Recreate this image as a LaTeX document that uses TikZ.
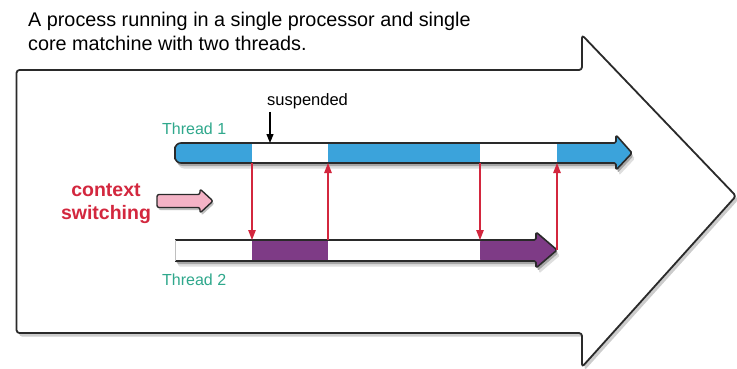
\documentclass[tikz,border=0pt]{standalone}
\usepackage{fontspec}
\setmainfont{Liberation Sans}
\usetikzlibrary{arrows.meta,calc}

\definecolor{tblue}{HTML}{3BA3DB}
\definecolor{tpurple}{HTML}{7E3B86}
\definecolor{tpink}{HTML}{F4B3C6}
\definecolor{tred}{HTML}{D3273E}
\definecolor{tteal}{HTML}{2FA88C}
\definecolor{edge}{HTML}{2A2A2A}

% outlines, offset by (#1,#2), reused for the shapes and their shadows
\newcommand\procshape[2]{(16.5+#1,70+#2) -- (582+#1,70+#2) -- (582+#1,35+#2) -- (736+#1,196+#2)
    -- (582+#1,367+#2) -- (582+#1,333+#2) -- (16.5+#1,333+#2) -- cycle}
\newcommand\threadoneshape[2]{[rounded corners=6pt] (175+#1,153+#2) -- (175+#1,143+#2) -- (300+#1,143+#2)
    [rounded corners=1.5pt] -- (616+#1,143+#2) -- (616+#1,135+#2) -- (632+#1,153+#2) -- (616+#1,170+#2)
    -- (616+#1,163+#2) [rounded corners=6pt] -- (175+#1,163+#2) -- cycle}
\newcommand\threadtwoshape[2]{[rounded corners=1.5pt] (175+#1,240+#2) -- (536+#1,240+#2) -- (536+#1,232+#2)
    -- (557+#1,250+#2) -- (536+#1,268+#2) -- (536+#1,261+#2) -- (175+#1,261+#2) -- cycle}
\newcommand\pinkshape[2]{[rounded corners=2pt] (157+#1,194.5+#2) -- (200+#1,194.5+#2) -- (200+#1,189+#2)
    -- (213+#1,201+#2) -- (200+#1,213+#2) -- (200+#1,207.5+#2) -- (157+#1,207.5+#2) -- cycle}

\tikzset{
  outline/.style={draw=edge, line width=1.6pt, line join=round},
  shadowA/.style={fill=black!35},
  shadowB/.style={fill=black!13},
  switchline/.style={draw=tred, line width=1.1pt, -{Triangle[length=10pt,width=7.5pt]}},
  threadlabel/.style={text=tteal, font=\fontsize{16}{18}\selectfont, anchor=base west, inner sep=0pt},
  ctxlabel/.style={text=tred, font=\bfseries\fontsize{19.5}{23}\selectfont, align=center, inner sep=0pt},
  titletext/.style={anchor=base west, inner sep=0pt, font=\fontsize{19.8}{24}\selectfont},
}

\begin{document}
\begin{tikzpicture}[x=1pt, y=-1pt]
  \useasboundingbox (0,0) rectangle (737,369);

  % title
  \node[titletext] (title1) at (28,27) {A process running in a single processor and single};
  \node[titletext] (title2) at (28,51) {core matchine with two threads.};

  % the process: one big block arrow
  \fill[black!20, rounded corners=3pt] \procshape{2.5}{3.5};
  \path[fill=white, draw=edge, line width=1.8pt, rounded corners=3pt, line join=round] \procshape{0}{0};

  % ---- Thread 1 bar ----
  \fill[shadowB] \threadoneshape{3}{5.5};
  \fill[shadowA] \threadoneshape{1.5}{3};
  \fill[tblue] \threadoneshape{0}{0};
  \fill[white] (252,143) rectangle (328,163);
  \fill[white] (480,143) rectangle (557,163);
  \draw[outline] \threadoneshape{0}{0};

  % ---- Thread 2 bar ----
  \fill[shadowB] \threadtwoshape{3}{5.5};
  \fill[shadowA] \threadtwoshape{1.5}{3};
  \fill[white] \threadtwoshape{0}{0};
  \fill[tpurple] (252,240) rectangle (328,261);
  \fill[tpurple, rounded corners=1.5pt]
    (480,240) -- (536,240) -- (536,232) -- (557,250) -- (536,268) -- (536,261) -- (480,261) -- cycle;
  \draw[outline, rounded corners=1.5pt]
    (175,240) -- (536,240) -- (536,232) -- (557,250) -- (536,268) -- (536,261) -- (175,261);
  \draw[edge!30, line width=0.8pt] (175,240) -- (175,261);

  % switch points on the two bars
  \coordinate (a1) at (252,163); \coordinate (a2) at (252,240);
  \coordinate (b1) at (328,163); \coordinate (b2) at (328,240);
  \coordinate (c1) at (480,163); \coordinate (c2) at (480,240);
  \coordinate (d1) at (557,163); \coordinate (d2) at (557,250);

  % context switches
  \draw[switchline] (a1) -- (a2);
  \draw[switchline] (b2) -- (b1);
  \draw[switchline] (c1) -- (c2);
  \draw[switchline] (d2) -- (d1);

  % labels
  \node[threadlabel] (t1) at (162,135) {Thread 1};
  \node[threadlabel] (t2) at (162,285) {Thread 2};

  \node[inner sep=0pt, font=\fontsize{16.5}{18}\selectfont, anchor=base west] (susp) at (267,106) {suspended};
  \coordinate (suspend) at (270,143);
  \coordinate (suspfrom) at (270,112);
  \draw[black, line width=1.2pt, -{Triangle[length=9pt,width=7pt]}] (suspfrom) -- (suspend);

  \node[ctxlabel] (ctx) at (106,204) {context\\switching};

  % small pink arrow
  \fill[black!25] \pinkshape{1.5}{2.5};
  \path[fill=tpink, draw=edge, line width=1.4pt, line join=round] \pinkshape{0}{0};
\end{tikzpicture}
\end{document}
